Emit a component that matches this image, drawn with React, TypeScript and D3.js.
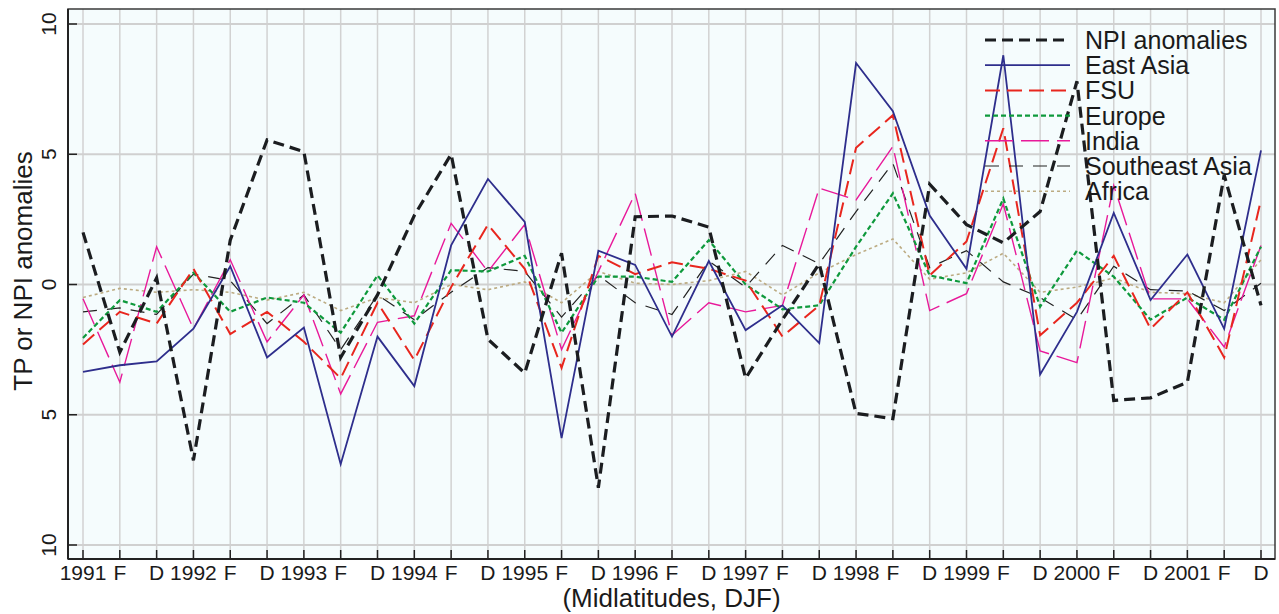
import React from "react";
import * as d3 from "d3";

const xLabels = ["1991","F","D","1992","F","D","1993","F","D","1994","F","D","1995","F","D","1996","F","D","1997","F","D","1998","F","D","1999","F","D","2000","F","D","2001","F","D"];
const yTicks = [-10, -5, 0, 5, 10];

const npi = [2.0,-2.6,0.25,-6.75,1.7,5.55,5.1,-2.8,-0.4,2.65,5.0,-2.1,-3.4,1.2,-7.8,2.6,2.63,2.2,-3.6,-1.35,0.8,-4.95,-5.15,3.85,2.3,1.6,2.8,7.8,-4.45,-4.35,-3.75,4.2,-0.8];
const eastAsia = [-3.35,-3.1,-2.95,-1.7,0.7,-2.8,-1.65,-6.9,-2.0,-3.9,1.5,4.05,2.4,-5.9,1.3,0.75,-2.0,0.9,-1.75,-0.8,-2.25,8.5,6.65,2.65,0.6,8.8,-3.45,-1.05,2.75,-0.6,1.15,-1.7,5.15];
const fsu = [-2.3,-1.05,-1.5,0.6,-1.9,-1.05,-2.2,-3.6,-0.7,-2.9,-0.1,2.3,0.6,-3.2,1.1,0.4,0.85,0.6,0.15,-2.0,-0.8,5.25,6.5,0.35,1.65,6.0,-1.95,-0.7,1.1,-1.7,-0.3,-2.8,3.25];
const europe = [-2.05,-0.6,-1.05,0.45,-1.05,-0.5,-0.7,-1.85,0.35,-1.5,0.55,0.5,1.1,-1.85,0.3,0.3,0.1,1.7,0.0,-0.95,-0.8,1.45,3.5,0.35,0.05,3.3,-0.85,1.3,0.3,-1.35,-0.5,-1.35,1.45];
const india = [-0.55,-3.75,1.45,-1.7,0.95,-2.2,-0.4,-4.2,-1.45,-1.2,2.35,0.5,2.3,-2.5,0.5,3.5,-1.95,-0.7,-1.05,-0.8,3.7,3.25,5.3,-1.0,-0.35,3.1,-2.55,-3.0,3.8,-0.55,-0.55,-2.4,1.5];
const seAsia = [-1.05,-0.9,-1.15,0.4,0.15,-1.5,-0.4,-2.5,-0.4,-1.35,-0.3,0.65,0.5,-1.25,0.35,-0.7,-1.15,0.9,-0.1,1.5,0.8,2.8,4.65,0.65,1.3,0.1,-0.5,-1.35,0.7,-0.2,-0.25,-1.0,0.05];
const africa = [-0.5,-0.15,-0.3,-0.2,-0.3,-0.6,-0.3,-1.0,-0.5,-0.7,0.0,-0.2,0.1,-0.7,0.5,0.05,0.0,0.15,0.5,-0.4,0.45,1.15,1.75,0.2,0.45,1.2,-0.3,-0.1,0.25,-0.3,-0.35,-0.7,0.95];

const seriesNames = ["NPI anomalies","East Asia","FSU","Europe","India","Southeast Asia","Africa"];
const seriesData = [npi, eastAsia, fsu, europe, india, seAsia, africa];

const styles = [
  { color: "#1b1d20", width: 3.2, dash: "11,6" },
  { color: "#2e2e8c", width: 1.8, dash: "" },
  { color: "#e8261e", width: 2.0, dash: "15,7" },
  { color: "#0e993c", width: 2.2, dash: "5,3" },
  { color: "#e8199a", width: 1.4, dash: "28,8" },
  { color: "#222222", width: 1.2, dash: "14,10" },
  { color: "#bcab82", width: 1.6, dash: "3,3" },
];

const W = 1279, H = 614;
const L = 68, R = 1275, T = 9, B = 559;
const FONT = "'Liberation Sans', Arial, Helvetica, sans-serif";

export default function App() {
  const x = d3.scaleLinear().domain([0, xLabels.length - 1]).range([83, 1261]);
  const y = d3.scaleLinear().domain([-10, 10]).range([545, 24]);
  const line = d3.line<number>().x((_, i) => x(i)).y((d) => y(d));
  const idx = d3.range(xLabels.length);
  const order = [6, 5, 4, 3, 2, 1, 0];
  return (
    <svg width={W} height={H} style={{ position: "absolute", left: 0, top: 0, background: "#fff" }} fontFamily={FONT}>
      <rect x={L} y={T} width={R - L} height={B - T} fill="#f5fcfd" />
      {idx.map((i) => (
        <line key={"vg" + i} x1={x(i)} x2={x(i)} y1={T} y2={B} stroke="#d2d2d2" strokeWidth={1.5} />
      ))}
      {yTicks.map((t) => (
        <line key={"hg" + t} x1={L} x2={R} y1={y(t)} y2={y(t)} stroke="#d0d0d0" strokeWidth={2} />
      ))}
      {order.map((k) => (
        <path key={"s" + k} d={line(seriesData[k]) || ""} fill="none" stroke={styles[k].color}
          strokeWidth={styles[k].width} strokeDasharray={styles[k].dash || undefined} strokeLinejoin="miter" />
      ))}
      {/* legend */}
      {seriesNames.map((n, k) => {
        const ly = 40 + k * 25.2;
        return (
          <g key={"lg" + k}>
            <line x1={985} x2={1070} y1={ly} y2={ly} stroke={styles[k].color} strokeWidth={styles[k].width}
              strokeDasharray={styles[k].dash || undefined} />
            <text x={1085} y={ly + 9} fontSize={25} fill="#1a1a1a">{n}</text>
          </g>
        );
      })}
      <rect x={L} y={T} width={R - L} height={B - T} fill="none" stroke="#3a3a3a" strokeWidth={1.5} />
      {/* y ticks */}
      {yTicks.map((t) => (
        <g key={"yt" + t}>
          <line x1={L} x2={L + 9} y1={y(t)} y2={y(t)} stroke="#222" strokeWidth={1.5} />
          <text transform={`translate(56,${y(t)}) rotate(-90)`} textAnchor="middle" fontSize={21} fill="#1a1a1a">
            {String(Math.abs(t))}
          </text>
        </g>
      ))}
      {/* x ticks */}
      {idx.map((i) => (
        <g key={"xt" + i}>
          <line x1={x(i)} x2={x(i)} y1={B} y2={B - 9} stroke="#222" strokeWidth={1.5} />
          <text x={x(i)} y={580} textAnchor="middle" fontSize={21} fill="#1a1a1a">{xLabels[i]}</text>
        </g>
      ))}
      <line x1={L} x2={R} y1={B} y2={B} stroke="#222" strokeWidth={2} />
      <line x1={L} x2={L} y1={T} y2={B} stroke="#222" strokeWidth={2} />
      <text x={(L + R) / 2} y={607} textAnchor="middle" fontSize={26} fill="#1a1a1a">(Midlatitudes, DJF)</text>
      <text transform={`translate(32,271) rotate(-90)`} textAnchor="middle" fontSize={26} fill="#1a1a1a">TP or NPI anomalies</text>
    </svg>
  );
}
